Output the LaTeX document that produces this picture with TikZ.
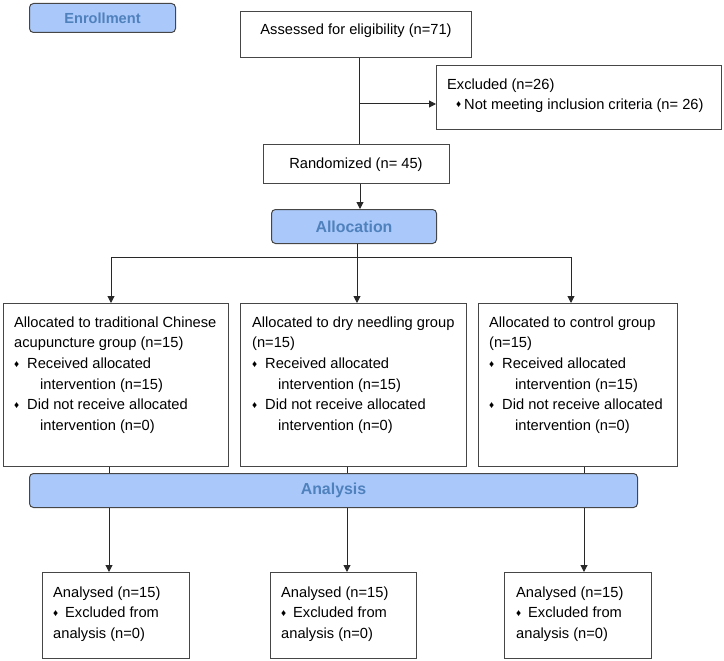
\documentclass[tikz,border=0pt]{standalone}
\usepackage{fontspec}
\setmainfont{Liberation Sans}
\usetikzlibrary{arrows.meta}
\definecolor{hdrfill}{RGB}{170,200,250}
\definecolor{hdrtext}{RGB}{79,129,189}
\definecolor{boxline}{RGB}{70,70,70}
\definecolor{conline}{RGB}{40,40,40}
\newcommand{\bulmark}{{\fontsize{10}{10}\selectfont\raisebox{1.2pt}{♦}}}
\newcommand{\bul}{\makebox[13pt][l]{\bulmark}}
\newcommand{\bulb}{\makebox[12pt][l]{\bulmark}}
\begin{document}
\begin{tikzpicture}[x=1pt,y=-1pt,
  box/.style={draw=boxline, line width=1pt, fill=white, inner sep=0pt, anchor=north west},
  hdr/.style={draw=boxline, line width=1pt, fill=hdrfill, rounded corners=4pt, inner sep=0pt,
    anchor=north west, text=hdrtext},
  txt/.style={anchor=north west, inner sep=0pt, align=left, font=\fontsize{14.67}{20.6}\selectfont},
  one/.style={anchor=base, inner sep=0pt, font=\fontsize{14.67}{20.6}\selectfont},
  arr/.style={draw=conline, line width=1pt, -{Triangle[length=7pt,width=7pt]}},
  ln/.style={draw=conline, line width=1pt}]
\useasboundingbox (0,0) rectangle (724,661);

% headers
\node[hdr, minimum width=146pt, minimum height=29pt, font=\bfseries\fontsize{14.6}{16}\selectfont] (enr) at (29,3) {Enrollment};
\node[hdr, minimum width=165pt, minimum height=34pt, font=\bfseries\fontsize{15.9}{16}\selectfont] (alloc) at (271,209) {Allocation};
\node[hdr, minimum width=608pt, minimum height=34pt, font=\bfseries\fontsize{15.9}{16}\selectfont] (anal) at (29,473) {\raisebox{-3pt}{Analysis}};

% enrollment boxes
\node[box, minimum width=231pt, minimum height=46pt] (assess) at (240,11) {};
\node[one] (assesst) at (356,35) {Assessed for eligibility (n=71)};
\node[box, minimum width=285pt, minimum height=64pt] (excl) at (436,65) {};
\node[txt, font=\fontsize{14.67}{20}\selectfont] (exclt) at (447,78) {\rule{0pt}{11pt}Excluded (n=26)\\\hspace*{9pt}\makebox[8pt][l]{\bulmark}Not meeting inclusion criteria (n= 26)};
\node[box, minimum width=186pt, minimum height=39pt] (rand) at (263,144) {};
\node[one] (randt) at (356,168) {Randomized (n= 45)};

% group boxes
\node[box, minimum width=225pt, minimum height=163pt] (g1) at (3,303) {};
\node[box, minimum width=226pt, minimum height=163pt] (g2) at (240,303) {};
\node[box, minimum width=199pt, minimum height=163pt] (g3) at (478,303) {};
\node[txt] (g1t) at (14,316) {\rule{0pt}{11pt}Allocated to traditional Chinese\\acupuncture group (n=15)\\\bul Received allocated\\\hspace*{26pt}intervention (n=15)\\\bul Did not receive allocated\\\hspace*{26pt}intervention (n=0)};
\node[txt] (g2t) at (252,316) {\rule{0pt}{11pt}Allocated to dry needling group\\(n=15)\\\bul Received allocated\\\hspace*{26pt}intervention (n=15)\\\bul Did not receive allocated\\\hspace*{26pt}intervention (n=0)};
\node[txt] (g3t) at (489,316) {\rule{0pt}{11pt}Allocated to control group\\(n=15)\\\bul Received allocated\\\hspace*{26pt}intervention (n=15)\\\bul Did not receive allocated\\\hspace*{26pt}intervention (n=0)};

% analysis boxes
\node[box, minimum width=147pt, minimum height=86pt] (a1) at (42,572) {};
\node[box, minimum width=146pt, minimum height=86pt] (a2) at (270,572) {};
\node[box, minimum width=147pt, minimum height=86pt] (a3) at (504,572) {};
\node[txt] (a1t) at (53,586) {\rule{0pt}{11pt}Analysed (n=15)\\\bulb Excluded from\\analysis (n=0)};
\node[txt] (a2t) at (281,586) {\rule{0pt}{11pt}Analysed (n=15)\\\bulb Excluded from\\analysis (n=0)};
\node[txt] (a3t) at (516,586) {\rule{0pt}{11pt}Analysed (n=15)\\\bulb Excluded from\\analysis (n=0)};

% connectors: enrollment
\coordinate (v1) at (359,57);
\coordinate (j) at (359,104);
\draw[ln] (assess.south -| v1) -- (rand.north -| v1);
\draw[arr] (j) -- (j -| excl.west);
\coordinate (v2) at (360,183);
\draw[arr] (rand.south -| v2) -- (alloc.north -| v2);

% connectors: allocation
\coordinate (b1) at (111,257);
\coordinate (b2) at (357,257);
\coordinate (b3) at (571,257);
\draw[ln] (alloc.south -| b2) -- (b2);
\draw[ln] (b1) -- (b3);
\draw[arr] (b1) -- (b1 |- g1.north);
\draw[arr] (b2) -- (b2 |- g2.north);
\draw[arr] (b3) -- (b3 |- g3.north);

% connectors: analysis
\coordinate (c1) at (109,490);
\coordinate (c2) at (347,490);
\coordinate (c3) at (584,490);
\draw[ln] (g1.south -| c1) -- (anal.north -| c1);
\draw[ln] (g2.south -| c2) -- (anal.north -| c2);
\draw[ln] (g3.south -| c3) -- (anal.north -| c3);
\draw[arr] (anal.south -| c1) -- (a1.north -| c1);
\draw[arr] (anal.south -| c2) -- (a2.north -| c2);
\draw[arr] (anal.south -| c3) -- (a3.north -| c3);
\end{tikzpicture}
\end{document}
